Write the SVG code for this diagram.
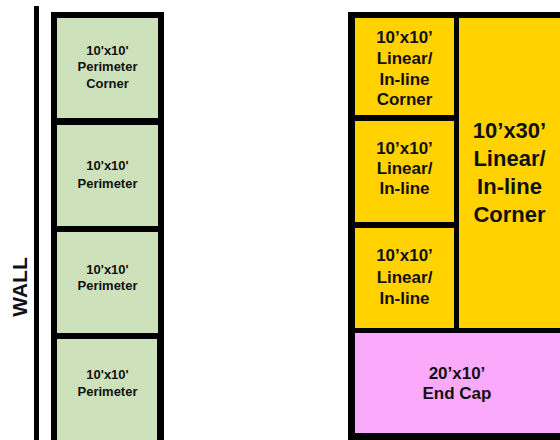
<svg xmlns="http://www.w3.org/2000/svg" width="560" height="440" viewBox="0 0 560 440">
<style>
text{font-family:"Liberation Sans",Arial,sans-serif;font-weight:bold;fill:#111;text-anchor:middle}
.g{fill:#CDE1BA}
.y{fill:#FFD200}
.p{fill:#FBA9FB}
.s{font-size:13px}
.m{font-size:17px}
.l{font-size:22px}
</style>
<rect width="560" height="440" fill="#fff"/>
<g id="wall">
<rect x="34" y="6" width="5" height="434" fill="#000"/>
<text x="0" y="0" font-size="21" transform="translate(27,287) rotate(-90)">WALL</text>
</g>
<rect x="51" y="12" width="113" height="430" fill="#000"/>
<rect x="348" y="12" width="214" height="430" fill="#000"/>
<g id="p1"><rect class="g" x="57" y="18" width="101" height="100"/>
<text class="s" x="107.5" y="55">10'x10'</text><text class="s" x="107.5" y="71">Perimeter</text><text class="s" x="107.5" y="87.5">Corner</text></g>
<g id="p2"><rect class="g" x="57" y="125" width="101" height="101"/>
<text class="s" x="107.5" y="170">10'x10'</text><text class="s" x="107.5" y="188">Perimeter</text></g>
<g id="p3"><rect class="g" x="57" y="232" width="101" height="101"/>
<text class="s" x="107.5" y="274">10'x10'</text><text class="s" x="107.5" y="290">Perimeter</text></g>
<g id="p4"><rect class="g" x="57" y="339" width="100" height="103"/>
<text class="s" x="107.5" y="379">10'x10'</text><text class="s" x="107.5" y="396">Perimeter</text></g>
<g id="y1"><rect class="y" x="355" y="18" width="99" height="97"/>
<text class="m" x="404.5" y="43">10’x10’</text><text class="m" x="404.5" y="64">Linear/</text><text class="m" x="404.5" y="85">In-line</text><text class="m" x="404.5" y="105">Corner</text></g>
<g id="y2"><rect class="y" x="355" y="121" width="99" height="101"/>
<text class="m" x="404.5" y="154">10’x10’</text><text class="m" x="404.5" y="174">Linear/</text><text class="m" x="404.5" y="194">In-line</text></g>
<g id="y3"><rect class="y" x="355" y="228" width="99" height="100"/>
<text class="m" x="404.5" y="261">10’x10’</text><text class="m" x="404.5" y="283">Linear/</text><text class="m" x="404.5" y="304">In-line</text></g>
<g id="y4"><rect class="y" x="459" y="18" width="103" height="310"/>
<text class="l" x="509.5" y="138">10’x30’</text><text class="l" x="509.5" y="166">Linear/</text><text class="l" x="509.5" y="194">In-line</text><text class="l" x="509.5" y="222">Corner</text></g>
<g id="endcap"><rect class="p" x="355" y="333" width="207" height="100"/>
<text class="m" x="457" y="379">20’x10’</text><text class="m" x="457" y="399">End Cap</text></g>
<g id="connectors"/>
</svg>
